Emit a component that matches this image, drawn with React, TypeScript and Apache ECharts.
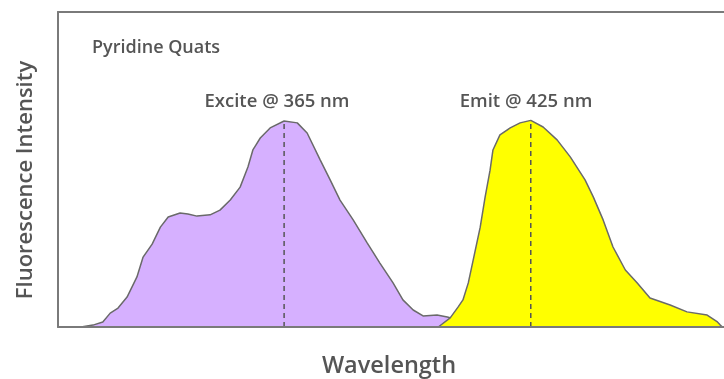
import React, { useEffect, useRef } from "react";
import * as echarts from "echarts";

// wavelength (nm) and relative intensity
const exciteWavelengths = [315.6, 318.5, 320.9, 322.7, 324.6, 326.8, 329.2, 330.7, 332.9, 334.9, 336.8, 339.7, 341.6, 343.8, 347.0, 349.4, 351.9, 354.3, 356.2, 357.4, 359.2, 361.6, 365.0, 368.2, 370.6, 373.8, 376.2, 378.6, 381.8, 385.2, 388.3, 391.5, 393.9, 396.4, 398.8, 402.2, 404.7, 406.6, 410.2, 415.1];
const exciteValues = [0, 0.6, 1.6, 4.4, 6.0, 9.5, 15.9, 22.2, 26.3, 31.7, 34.9, 36.2, 35.9, 35.2, 35.6, 37.1, 40.3, 44.4, 50.8, 56.2, 60.0, 63.2, 65.4, 64.8, 61.6, 53.0, 46.7, 40.3, 34.0, 26.7, 20.3, 14.0, 8.6, 5.4, 3.5, 3.8, 3.2, 2.5, 1.0, 0];

const emitWavelengths = [402.5, 405.4, 407.3, 408.5, 409.8, 411.0, 412.7, 413.9, 415.1, 415.8, 417.5, 420.0, 422.4, 425.0, 428.0, 431.4, 434.6, 438.2, 440.2, 442.6, 445.0, 448.0, 450.9, 454.0, 458.9, 463.0, 467.9, 470.4, 471.1, 471.6];
const emitValues = [0, 2.9, 6.3, 8.6, 14.0, 21.3, 31.7, 41.3, 49.8, 56.2, 61.0, 63.2, 64.8, 65.6, 63.5, 59.4, 54.0, 46.7, 41.3, 34.0, 25.4, 18.1, 14.0, 9.2, 7.0, 4.8, 3.8, 1.6, 0.6, 0];

const exciteLabel = "Excite @ 365 nm";
const emitLabel = "Emit @ 425 nm";
const titleText = "Pyridine Quats";
const xTitle = "Wavelength";
const yTitle = "Fluorescence Intensity";
const exciteNm = 365;
const emitNm = 425;

const FONT = "'Open Sans', Lato, sans-serif";
const TXT = "#555555";
const FRAME = { show: true, lineStyle: { color: "#7a7a7a", width: 2 } };

export default function App() {
  const ref = useRef<HTMLDivElement>(null);
  useEffect(() => {
    if (!ref.current) return;
    const chart = echarts.init(ref.current, undefined, { renderer: "svg" });
    const exData = exciteWavelengths.map((w, i) => [w, exciteValues[i]]);
    const emData = emitWavelengths.map((w, i) => [w, emitValues[i]]);
    const exPeak = exciteValues[exciteWavelengths.indexOf(exciteNm)];
    const emPeak = emitValues[emitWavelengths.indexOf(emitNm)];
    const hidden = {
      axisTick: { show: false },
      axisLabel: { show: false },
      splitLine: { show: false },
    };
    chart.setOption({
      animation: false,
      grid: { left: 58, right: 0, top: 12, bottom: 52 },
      xAxis: [
        { type: "value", min: 310, max: 472, position: "bottom", axisLine: FRAME, ...hidden, z: 10 },
        { type: "value", min: 310, max: 472, position: "top", axisLine: FRAME, ...hidden },
      ],
      yAxis: { type: "value", min: 0, max: 100, axisLine: FRAME, ...hidden },
      series: [
        {
          type: "line",
          data: exData,
          symbol: "none",
          lineStyle: { color: "#6a6a6a", width: 1.5 },
          areaStyle: { color: "#d6b0ff", opacity: 1 },
          z: 2,
        },
        {
          type: "line",
          data: emData,
          symbol: "none",
          lineStyle: { color: "#6a6a6a", width: 1.5 },
          areaStyle: { color: "#ffff00", opacity: 1 },
          z: 3,
        },
        {
          type: "line",
          data: [[exciteNm, 0], [exciteNm, exPeak]],
          symbol: "none",
          lineStyle: { color: "#555555", width: 1.5, type: [5, 4] },
          z: 4,
        },
        {
          type: "line",
          data: [[emitNm, 0], [emitNm, emPeak]],
          symbol: "none",
          lineStyle: { color: "#555555", width: 1.5, type: [5, 4] },
          z: 4,
        },
      ],
      graphic: [
        {
          type: "text",
          x: 92,
          y: 46,
          style: { text: titleText, fill: TXT, font: `600 18px ${FONT}`, verticalAlign: "middle" },
        },
        {
          type: "text",
          x: 277,
          y: 99,
          style: { text: exciteLabel, fill: TXT, font: `600 18.5px ${FONT}`, align: "center", verticalAlign: "middle" },
        },
        {
          type: "text",
          x: 526,
          y: 99,
          style: { text: emitLabel, fill: TXT, font: `600 18.5px ${FONT}`, align: "center", verticalAlign: "middle" },
        },
        {
          type: "text",
          x: 389,
          y: 364,
          style: { text: xTitle, fill: TXT, font: `600 23.5px ${FONT}`, align: "center", verticalAlign: "middle" },
        },
        {
          type: "text",
          x: 23,
          y: 180,
          rotation: Math.PI / 2,
          style: { text: yTitle, fill: TXT, font: `600 22px ${FONT}`, align: "center", verticalAlign: "middle" },
        },
      ],
    });
    return () => chart.dispose();
  }, []);
  return <div ref={ref} style={{ position: "fixed", left: 0, top: 0, width: 724, height: 379 }} />;
}
